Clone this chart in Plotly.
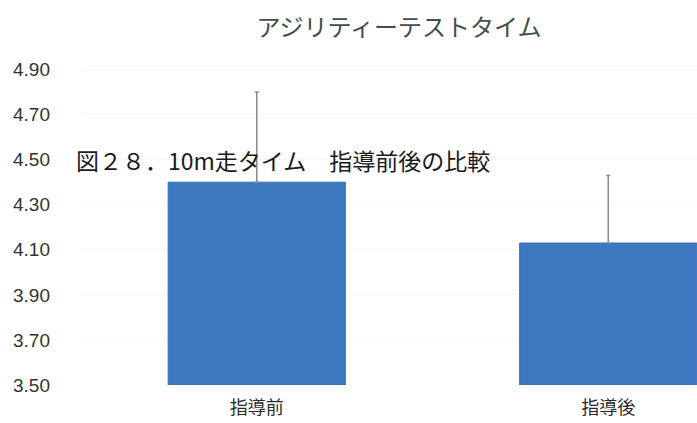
import plotly.graph_objects as go

categories = ["指導前", "指導後"]
means = [4.40, 4.13]
errors = [0.40, 0.30]
y_ticks = [3.50, 3.70, 3.90, 4.10, 4.30, 4.50, 4.70, 4.90]
title_text = "アジリティーテストタイム"
caption_text = "図２８．10m走タイム　指導前後の比較"

plot_l, plot_t, plot_b = 81, 47, 38
plot_w = 697 - plot_l
plot_h = 423 - plot_t - plot_b

fig = go.Figure()
fig.add_trace(go.Bar(
    x=[0, 1], y=[m - 3.5 for m in means], base=3.5,
    width=0.504,
    marker=dict(color="#3d78c0", line=dict(color="#3a6fae", width=1)),
    error_y=dict(type="data", array=errors, symmetric=False, arrayminus=[0, 0],
                 color="#8a8a8a", thickness=1.5, width=2),
    hoverinfo="skip",
))

fig.update_layout(
    width=697, height=423,
    margin=dict(l=plot_l, r=0, t=plot_t, b=plot_b),
    paper_bgcolor="white", plot_bgcolor="white",
    showlegend=False,
    font=dict(family="Noto Sans CJK JP, Liberation Sans, sans-serif", color="#333333"),
    title=dict(text=title_text, x=399 / 697, xanchor="center", y=1 - 28 / 423, yanchor="middle",
               font=dict(size=24, color="#3f4f4a", family="Noto Sans CJK JP")),
    xaxis=dict(range=[-0.5, 1.2525], tickvals=[0, 1], ticktext=categories,
               showgrid=False, zeroline=False, showline=False,
               tickfont=dict(size=18, color="#2a2a2a", family="Noto Sans CJK JP"),
               ticklabelstandoff=10),
    yaxis=dict(range=[3.5, 5.0], tickvals=y_ticks,
               ticktext=[f"{v:.2f}" for v in y_ticks],
               showgrid=True, gridcolor="#f5f5f5", gridwidth=1,
               zeroline=False, showline=False,
               tickfont=dict(size=19, color="#333333", family="Liberation Sans"),
               ticklabelstandoff=30),
    annotations=[dict(text=caption_text, showarrow=False,
                      xref="paper", yref="paper",
                      x=(74 - plot_l) / plot_w, y=(385 - 160) / plot_h,
                      xanchor="left", yanchor="middle",
                      font=dict(size=23, color="#1a1a1a", family="Noto Sans CJK JP"))],
)

fig.write_html("out.html")
